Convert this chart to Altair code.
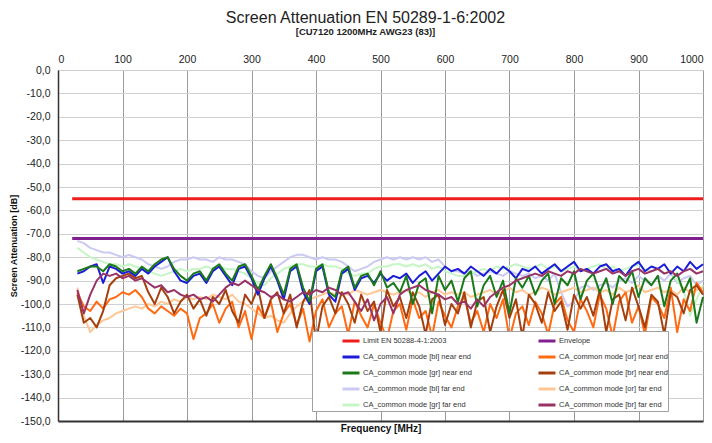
import altair as alt
import pandas as pd

# Frequency grid (MHz) of the measured sweeps
freqs = list(range(30, 1001, 10))

# Limit lines
limit_name = "Limit EN 50288-4-1:2003"
envelope_name = "Envelope"
limit_freqs = [22, 1000]
limit_values = [-55, -55]
envelope_values = [-72, -72]

bl_far = [
    -73, -74, -76, -77, -78, -78, -79, -80, -79, -80,
    -81, -83, -84, -85, -84, -82, -81, -81, -80, -81,
    -81, -82, -80, -81, -81, -82, -83, -86, -88, -89,
    -86, -84, -82, -80, -79, -79, -80, -81, -80, -81,
    -81, -82, -84, -86, -85, -84, -82, -81, -80, -81,
    -80, -81, -80, -81, -80, -82, -81, -84, -86, -86,
    -87, -86, -88, -87, -86, -87, -88, -86, -87, -88,
    -87, -89, -88, -90, -87, -95, -101, -99, -93, -92,
    -94, -92, -91, -93, -90, -89, -91, -88, -90, -92,
    -88, -90, -87, -91, -89, -88, -92, -90]

gr_far = [
    -76, -78, -80, -81, -82, -83, -83, -84, -83, -84,
    -85, -86, -87, -88, -87, -86, -85, -86, -85, -85,
    -84, -85, -84, -85, -85, -86, -87, -89, -91, -92,
    -89, -87, -85, -84, -83, -83, -84, -84, -83, -84,
    -84, -85, -87, -88, -87, -87, -85, -84, -84, -83,
    -83, -84, -83, -84, -83, -85, -84, -86, -87, -88,
    -88, -87, -86, -85, -86, -84, -85, -84, -83, -84,
    -85, -84, -83, -85, -84, -86, -85, -84, -86, -85,
    -84, -83, -85, -84, -86, -85, -84, -83, -85, -86,
    -85, -87, -86, -90, -94, -105, -98, -92]

or_far = [
    -93, -105, -112, -109, -107, -106, -104, -103, -102, -101,
    -102, -100, -101, -99, -100, -98, -99, -97, -98, -97,
    -98, -96, -97, -98, -96, -99, -100, -102, -104, -106,
    -105, -107, -108, -104, -101, -99, -98, -97, -96, -95,
    -96, -95, -96, -94, -95, -96, -95, -94, -95, -96,
    -95, -94, -96, -95, -97, -95, -94, -96, -95, -96,
    -95, -97, -96, -95, -94, -96, -95, -93, -95, -94,
    -96, -95, -93, -94, -96, -95, -94, -93, -95, -94,
    -93, -95, -94, -96, -93, -95, -94, -92, -95, -94,
    -93, -95, -94, -96, -93, -95, -94, -93]

or_near = [
    -95, -101, -103, -99, -102, -98, -97, -95, -96, -94,
    -97, -102, -104, -101, -103, -105, -102, -104, -115, -106,
    -104, -100, -108, -102, -99, -110, -103, -115, -101, -106,
    -99, -112, -104, -100, -109, -102, -116, -103, -98, -110,
    -104, -101, -113, -99, -105, -110, -100, -108, -115, -103,
    -100, -111, -98, -106, -103, -114, -99, -105, -110, -101,
    -97, -108, -103, -112, -100, -106, -98, -115, -104, -101,
    -109, -99, -104, -113, -100, -97, -107, -112, -98, -103,
    -110, -96, -102, -114, -99, -95, -108, -101, -113, -97,
    -100, -106, -93, -112, -98, -103, -91, -95]

br_near = [
    -96, -108, -106, -110, -103, -92, -89, -88, -87, -89,
    -88, -95, -100, -93, -97, -104, -99, -96, -102, -98,
    -105, -97, -100, -94, -103, -108, -96, -100, -93, -106,
    -98, -95, -104, -96, -110, -99, -94, -116, -101, -97,
    -104, -95, -100, -108, -96, -103, -99, -112, -94, -101,
    -97, -106, -95, -101, -113, -98, -96, -109, -100, -104,
    -95, -110, -99, -97, -112, -101, -94, -106, -98, -114,
    -96, -100, -108, -95, -103, -99, -111, -96, -102, -97,
    -105, -94, -112, -98, -96, -107, -93, -101, -110, -96,
    -99, -113, -95, -97, -104, -94, -92, -96]

bl_near = [
    -87, -86, -84, -83, -91, -84, -85, -87, -86, -88,
    -85, -87, -84, -82, -80, -86, -90, -91, -88, -87,
    -91, -86, -84, -88, -92, -85, -84, -89, -96, -89,
    -84, -90, -98, -86, -84, -95, -100, -86, -84, -96,
    -99, -87, -85, -94, -89, -88, -91, -87, -90, -88,
    -89, -87, -91, -88, -86, -90, -87, -84, -86, -85,
    -87, -84, -86, -88, -85, -87, -84, -86, -89, -85,
    -86, -84, -87, -85, -83, -86, -84, -82, -86, -85,
    -87, -84, -83, -86, -85, -88, -84, -82, -86, -84,
    -85, -83, -87, -84, -86, -82, -85, -83]

gr_near = [
    -86, -85, -84, -84, -86, -83, -84, -86, -85, -87,
    -84, -86, -83, -81, -80, -85, -88, -90, -87, -86,
    -90, -85, -83, -87, -90, -84, -83, -88, -94, -88,
    -83, -89, -96, -85, -83, -93, -99, -85, -83, -95,
    -97, -86, -84, -93, -88, -87, -92, -86, -93, -91,
    -95, -88, -100, -91, -89, -104, -88, -94, -90, -99,
    -89, -86, -101, -92, -88, -97, -90, -104, -89, -93,
    -88, -96, -90, -87, -100, -89, -92, -86, -98, -90,
    -87, -95, -89, -100, -88, -91, -86, -97, -89, -92,
    -88, -101, -90, -87, -95, -89, -108, -97]

br_far = [
    -94, -104, -96, -90, -87, -88, -87, -89, -88, -90,
    -89, -91, -93, -92, -95, -94, -96, -97, -96, -98,
    -97, -99, -96, -93, -91, -92, -90, -92, -94, -95,
    -97, -96, -98, -99, -97, -95, -96, -94, -95, -93,
    -94, -96, -95, -99, -103, -98, -107, -100, -97, -104,
    -96, -94, -93, -92, -94, -95, -96, -98, -97, -100,
    -99, -102, -98, -101, -97, -95, -93, -92, -90, -89,
    -88, -87, -88, -86, -87, -88, -86, -87, -85, -86,
    -87, -86, -85, -87, -86, -88, -86, -85, -87, -86,
    -85, -87, -86, -88, -86, -85, -87, -86]

# Legend entries (filled column by column: left column, then right column)
legend_order = [
    limit_name,
    "CA_common mode [bl] near end",
    "CA_common mode [gr] near end",
    "CA_common mode [bl] far end",
    "CA_common mode [gr] far end",
    envelope_name,
    "CA_common mode [or] near end",
    "CA_common mode [br] near end",
    "CA_common mode [or] far end",
    "CA_common mode [br] far end",
]
legend_colors = [
    "#ee1c1c",
    "#1c1cd8",
    "#1a7a1a",
    "#cacaf4",
    "#c6f5c6",
    "#80208f",
    "#ff6a12",
    "#a3400e",
    "#ffc796",
    "#993366",
]

# drawing order (back to front)
measured = [
    ("CA_common mode [bl] far end", bl_far),
    ("CA_common mode [gr] far end", gr_far),
    ("CA_common mode [or] far end", or_far),
    ("CA_common mode [or] near end", or_near),
    ("CA_common mode [br] near end", br_near),
    ("CA_common mode [bl] near end", bl_near),
    ("CA_common mode [gr] near end", gr_near),
    ("CA_common mode [br] far end", br_far),
]
for _, vals in measured:
    assert len(vals) == len(freqs)

rows = []
for name, vals in measured:
    for f, v in zip(freqs, vals):
        rows.append({"freq": f, "value": v, "series": name})
meas_df = pd.DataFrame(rows)

lim_rows = []
for f, v in zip(limit_freqs, limit_values):
    lim_rows.append({"freq": f, "value": v, "series": limit_name})
for f, v in zip(limit_freqs, envelope_values):
    lim_rows.append({"freq": f, "value": v, "series": envelope_name})
lim_df = pd.DataFrame(lim_rows)

FONT = "Liberation Sans"

color = alt.Color(
    "series:N",
    scale=alt.Scale(domain=legend_order, range=legend_colors),
    sort=legend_order,
    legend=alt.Legend(
        title=None, orient="none", legendX=254, legendY=261, columns=2,
        direction="vertical",
        fillColor="white", strokeColor="#a0a0a0", padding=0,
        symbolType="stroke", symbolSize=289, symbolStrokeWidth=3,
        symbolOffset=29, columnPadding=36, rowPadding=-4, labelOffset=2,
        labelFontSize=7.5, labelFont=FONT, labelColor="#333", labelLimit=300,
    ),
)

x_scale = alt.Scale(domain=[0, 1000], nice=False, zero=False)
y_scale = alt.Scale(domain=[-150, 0], nice=False)

y_axis = alt.Axis(
    values=list(range(-150, 1, 10)),
    labelExpr="replace(replace(format(datum.value, '.1f'), '.', ','), '\u2212', '-')",
    title="Screen Attenuation [dB]", titleFontWeight="bold", titleFontSize=9,
    titleFont=FONT, titlePadding=2, titleColor="#111",
    labelFontSize=10.5, labelFont=FONT, labelColor="#222", labelPadding=8,
    ticks=False, grid=True, gridColor="#d0d0d0", domainColor="#333", domainWidth=1.5,
)

x_top = alt.Axis(
    orient="top", values=list(range(0, 1001, 100)), format="d", title=None,
    labelFontSize=10.5, labelFont=FONT, labelColor="#222", labelPadding=6,
    ticks=False, grid=True, gridColor="#9a9a9a", domain=False,
)
x_bottom = alt.Axis(
    orient="bottom", labels=False, ticks=False, grid=False,
    domainColor="#333", domainWidth=2,
    title="Frequency [MHz]", titleFontWeight="bold", titleFontSize=10,
    titleFont=FONT, titlePadding=2, titleColor="#111",
)

meas = alt.Chart(meas_df).mark_line(strokeWidth=2, strokeJoin="round").encode(
    x=alt.X("freq:Q", scale=x_scale, axis=x_top),
    y=alt.Y("value:Q", scale=y_scale, axis=y_axis),
    color=color,
)

lims = alt.Chart(lim_df).mark_line(strokeWidth=3).encode(
    x=alt.X("freq:Q", scale=x_scale, axis=x_bottom),
    y=alt.Y("value:Q", scale=y_scale, axis=y_axis),
    color=color,
)

chart = alt.layer(meas, lims).resolve_axis(x="independent").properties(
    width=645, height=351,
    padding={"left": 50, "top": 62, "right": 1, "bottom": 14},
    autosize=alt.AutoSizeParams(type="none"),
    title=alt.TitleParams(
        text="Screen Attenuation EN 50289-1-6:2002",
        subtitle="[CU7120 1200MHz AWG23 (83)]",
        fontSize=16, fontWeight="normal", font=FONT, color="#222",
        subtitleFontSize=9.5, subtitleFontWeight="bold", subtitleFont=FONT,
        subtitleColor="#222", subtitlePadding=1,
        anchor="middle", dx=-15, offset=18,
    ),
).configure_view(stroke="#666", strokeWidth=1).configure(background="white")

chart.save("out.html", embed_options={"renderer": "svg", "actions": False})
